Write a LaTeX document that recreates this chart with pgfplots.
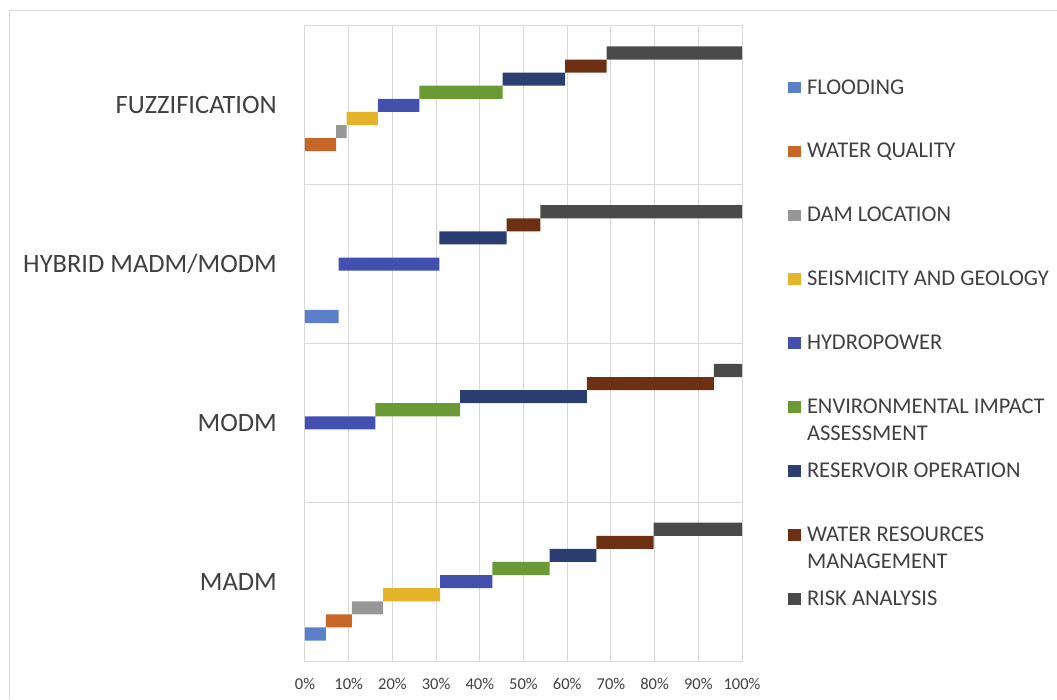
\documentclass[border=0pt]{standalone}
\usepackage{pgfplots}
\pgfplotsset{compat=1.18}
\usepackage{fontspec}
\setmainfont{Carlito}

\definecolor{cFlood}{RGB}{91,128,201}
\definecolor{cQual}{RGB}{200,102,40}
\definecolor{cDam}{RGB}{150,150,150}
\definecolor{cSeis}{RGB}{228,180,42}
\definecolor{cHydro}{RGB}{66,80,176}
\definecolor{cEnv}{RGB}{106,154,53}
\definecolor{cRes}{RGB}{42,62,114}
\definecolor{cWRM}{RGB}{110,48,18}
\definecolor{cRisk}{RGB}{74,74,74}
\definecolor{gridgray}{RGB}{217,217,217}
\definecolor{framegray}{RGB}{217,217,217}
\definecolor{textgray}{RGB}{64,64,64}

% share (%) of each application area within every method family
% y: 0 = MADM, 1 = MODM, 2 = HYBRID MADM/MODM, 3 = FUZZIFICATION
\begin{document}
\begin{tikzpicture}[x=1pt,y=1pt]
\useasboundingbox (-305,-38) rectangle (752,661);
\draw[framegray, line width=1pt] (-295,-38) -- (-295,650) -- (752,650);
\begin{axis}[
  at={(0,0)}, anchor=south west,
  scale only axis, width=437pt, height=635pt,
  xbar stacked, bar width=0.0825,
  xmin=0, xmax=100, ymin=-0.5, ymax=3.5,
  xtick={0,10,20,30,40,50,60,70,80,90,100},
  xticklabels={0\%,10\%,20\%,30\%,40\%,50\%,60\%,70\%,80\%,90\%,100\%},
  ytick={0,1,2,3},
  yticklabels={MADM,MODM,HYBRID MADM/MODM,FUZZIFICATION},
  minor ytick={-0.5,0.5,1.5,2.5,3.5},
  xmajorgrids, yminorgrids,
  grid style={gridgray, line width=1pt},
  minor grid style={gridgray, line width=1pt},
  axis line style={gridgray, line width=1pt},
  major tick length=0pt, minor tick length=0pt,
  tick style={draw=none},
  xticklabel style={font=\fontsize{16.5}{20}\selectfont, text=textgray,
    anchor=north, inner sep=0pt, text height=10.5pt, text depth=0pt, yshift=-17.8pt},
  yticklabel style={font=\fontsize{26.5}{32}\selectfont, text=textgray,
    anchor=east, inner sep=0pt, text height=17pt, text depth=0pt, xshift=-28pt},
  legend style={draw=none, fill=none, inner sep=0pt, outer sep=0pt,
    at={(axis description cs:1.1053,0.9181)}, anchor=north west,
    font=\fontsize{22.5}{27}\selectfont, text=textgray,
    row sep=0pt, column sep=6.5pt,
    cells={anchor=base west},
    nodes={inner sep=0pt, text height=16pt, text depth=47.9pt}},
  legend image code/.code={\fill[#1] (0pt,0.7pt) rectangle (12.5pt,12.3pt);},
]
\addplot[fill=cFlood, draw=none, bar shift=-0.33]
  coordinates {(4.76,0) (0,1) (7.69,2) (0,3)};
\addlegendentry{FLOODING}
\addplot[fill=cQual, draw=none, bar shift=-0.2475]
  coordinates {(5.95,0) (0,1) (0,2) (7.14,3)};
\addlegendentry{WATER QUALITY}
\addplot[fill=cDam, draw=none, bar shift=-0.165]
  coordinates {(7.14,0) (0,1) (0,2) (2.38,3)};
\addlegendentry{DAM LOCATION}
\addplot[fill=cSeis, draw=none, bar shift=-0.0825]
  coordinates {(13.10,0) (0,1) (0,2) (7.14,3)};
\addlegendentry{SEISMICITY AND GEOLOGY}
\addplot[fill=cHydro, draw=none, bar shift=0]
  coordinates {(11.90,0) (16.13,1) (23.08,2) (9.52,3)};
\addlegendentry{HYDROPOWER}
\addplot[fill=cEnv, draw=none, bar shift=0.0825]
  coordinates {(13.10,0) (19.35,1) (0,2) (19.05,3)};
\addlegendentry{{\begin{tabular}[t]{@{}l@{}}ENVIRONMENTAL IMPACT\\ASSESSMENT\end{tabular}}}
\addplot[fill=cRes, draw=none, bar shift=0.165]
  coordinates {(10.71,0) (29.03,1) (15.38,2) (14.29,3)};
\addlegendentry{RESERVOIR OPERATION}
\addplot[fill=cWRM, draw=none, bar shift=0.2475]
  coordinates {(13.10,0) (29.03,1) (7.69,2) (9.52,3)};
\addlegendentry{{\begin{tabular}[t]{@{}l@{}}WATER RESOURCES\\MANAGEMENT\end{tabular}}}
\addplot[fill=cRisk, draw=none, bar shift=0.33]
  coordinates {(20.24,0) (6.46,1) (46.16,2) (30.96,3)};
\addlegendentry{RISK ANALYSIS}
\end{axis}
\end{tikzpicture}
\end{document}
